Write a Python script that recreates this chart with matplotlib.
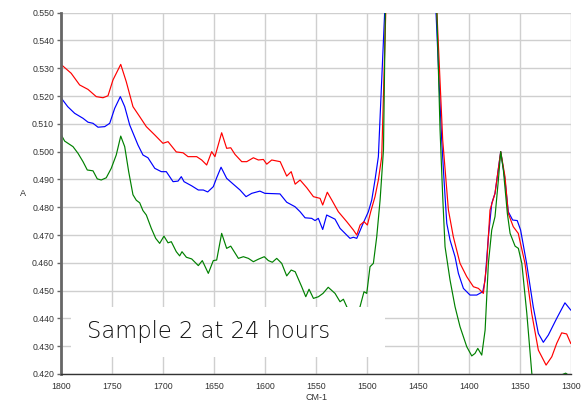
import numpy as np
import matplotlib.pyplot as plt
from matplotlib.patches import Rectangle

# wavenumber (cm-1) / absorbance
red_x = [1800, 1790, 1781.7, 1773.5, 1765.4, 1758.8, 1753.9, 1749, 1741.4, 1736,
         1729.4, 1722.8, 1716.3, 1708, 1700, 1695, 1686.9, 1680.3, 1675.4, 1666.9,
         1662, 1657.1, 1652.2, 1649, 1642.4, 1637.5, 1633.5, 1629.3, 1622.7, 1617.8,
         1611.3, 1606.4, 1601.5, 1598.2, 1593.3, 1585, 1578.6, 1574.2, 1570.3, 1565.5,
         1558.9, 1552.4, 1545.9, 1543.3, 1538.8, 1534.4, 1528, 1519.7, 1513.2, 1509.9,
         1506.6, 1502.8, 1499.5, 1496.2, 1492, 1488.7, 1485.4, 1481.3, 1457, 1431.5,
         1425.6, 1422.4, 1420, 1415.2, 1408.6, 1402, 1395.5, 1390.6, 1385.7, 1382.4,
         1379.2, 1374.3, 1368.7, 1364.5, 1361.3, 1356.4, 1351.5, 1344.9, 1338.3, 1331.8,
         1324.2, 1318.6, 1313.8, 1308.9, 1304, 1300]
red_y = [0.5314, 0.5282, 0.5240, 0.5224, 0.5198, 0.5194, 0.5201, 0.5258, 0.5314, 0.5252,
         0.5162, 0.5126, 0.5090, 0.5060, 0.5030, 0.5036, 0.4999, 0.4996, 0.4982, 0.4982,
         0.4970, 0.4952, 0.5000, 0.4982, 0.5068, 0.5012, 0.5014, 0.4990, 0.4964, 0.4964,
         0.4978, 0.4970, 0.4972, 0.4955, 0.4970, 0.4964, 0.4912, 0.4928, 0.4883, 0.4898,
         0.4870, 0.4838, 0.4832, 0.4808, 0.4854, 0.4826, 0.4784, 0.4748, 0.4718, 0.4700,
         0.4736, 0.4748, 0.4736, 0.4784, 0.4838, 0.4898, 0.4982, 0.552, 0.70, 0.552,
         0.5042, 0.4898, 0.4790, 0.4694, 0.4598, 0.4550, 0.4514, 0.4508, 0.4490, 0.4598,
         0.4790, 0.4850, 0.5000, 0.4910, 0.4778, 0.4730, 0.4706, 0.4598, 0.4418, 0.4286,
         0.4232, 0.4262, 0.4310, 0.4348, 0.4344, 0.4310]

blue_x = [1800, 1793.4, 1786.6, 1778.4, 1773.5, 1768.6, 1763.7, 1757.1, 1752.2, 1747.3,
          1741.8, 1737.5, 1732.6, 1724.5, 1719.6, 1714.7, 1708, 1701.6, 1696.7, 1690.1,
          1685.2, 1682, 1679.3, 1671.8, 1665.3, 1660.4, 1656.1, 1650.6, 1647.3, 1643,
          1637.5, 1631, 1624.4, 1618.5, 1612.9, 1604.9, 1600, 1585.2, 1578.6, 1570.5,
          1565.5, 1560.6, 1554.1, 1550.8, 1547.6, 1543.3, 1539.4, 1536.1, 1531.2, 1526.3,
          1521.4, 1516.5, 1513.2, 1509.9, 1503.4, 1498.5, 1495.2, 1492, 1488.7, 1482.3,
          1457, 1432.4, 1426.6, 1424.3, 1421.6, 1418.4, 1413.5, 1410.2, 1405.3, 1398.8,
          1392.2, 1386.3, 1384, 1380.8, 1377.5, 1374.3, 1368.7, 1364.5, 1361.3, 1357,
          1352.5, 1349.2, 1343.3, 1336.8, 1331.8, 1326.9, 1322, 1313.8, 1305.7, 1300]
blue_y = [0.5194, 0.5162, 0.5138, 0.5120, 0.5106, 0.5102, 0.5088, 0.5090, 0.5102, 0.5156,
          0.5198, 0.5162, 0.5096, 0.5024, 0.4988, 0.4978, 0.4940, 0.4928, 0.4928, 0.4892,
          0.4894, 0.4910, 0.4892, 0.4877, 0.4862, 0.4862, 0.4855, 0.4874, 0.4906, 0.4944,
          0.4904, 0.4883, 0.4862, 0.4838, 0.4850, 0.4858, 0.4850, 0.4848, 0.4818, 0.4802,
          0.4784, 0.4762, 0.4760, 0.4752, 0.4760, 0.4720, 0.4772, 0.4766, 0.4757, 0.4724,
          0.4706, 0.4688, 0.4692, 0.4688, 0.4744, 0.4784, 0.4826, 0.4898, 0.4982, 0.552,
          0.70, 0.552, 0.5042, 0.4898, 0.4742, 0.4682, 0.4622, 0.4562, 0.4508, 0.4484,
          0.4484, 0.4496, 0.4538, 0.4694, 0.4814, 0.4850, 0.5000, 0.4898, 0.4784, 0.4754,
          0.4752, 0.4718, 0.4598, 0.4442, 0.4346, 0.4314, 0.4340, 0.4400, 0.4456, 0.4430]

green_x = [1800, 1796.4, 1788.2, 1783.3, 1778.4, 1774.2, 1768.6, 1764.4, 1760.5, 1755.6,
           1750.7, 1745.8, 1741.4, 1737.5, 1733.6, 1729.4, 1726.1, 1722.8, 1719.6, 1716.3,
           1711.4, 1707.1, 1703.2, 1699, 1695, 1691.8, 1686.9, 1683.6, 1681.3, 1677,
           1671.8, 1665.3, 1661.4, 1655.5, 1650.6, 1647.3, 1642.4, 1637.5, 1633.5, 1626,
           1621.1, 1616.2, 1611.3, 1606.4, 1600.6, 1596.6, 1592.7, 1588.4, 1583.5, 1578.6,
           1574.2, 1570.3, 1563.9, 1559.9, 1556.7, 1552.4, 1547.5, 1543, 1537.9, 1531.2,
           1526.3, 1523, 1519.7, 1513, 1506.7, 1502.8, 1500.1, 1496.9, 1493.6, 1490.3,
           1487, 1483.7, 1481.8, 1457, 1431.5, 1428.2, 1425.6, 1423.3, 1418.4, 1413.5,
           1408.6, 1402, 1397.1, 1393.9, 1391.2, 1387.3, 1384, 1380.8, 1377.5, 1374.3,
           1371, 1368.7, 1366.1, 1362.2, 1359.5, 1354.6, 1351.4, 1348, 1343.1, 1338.2,
           1330, 1318, 1310, 1305, 1300]
green_y = [0.5062, 0.5038, 0.5018, 0.4994, 0.4964, 0.4934, 0.4931, 0.4902, 0.4898, 0.4906,
           0.4940, 0.4988, 0.5056, 0.5018, 0.4928, 0.4845, 0.4825, 0.4816, 0.4788, 0.4772,
           0.4724, 0.4688, 0.4670, 0.4696, 0.4672, 0.4676, 0.4640, 0.4625, 0.4640, 0.4620,
           0.4614, 0.4590, 0.4608, 0.4562, 0.4608, 0.4610, 0.4706, 0.4652, 0.4660, 0.4616,
           0.4622, 0.4616, 0.4604, 0.4613, 0.4622, 0.4608, 0.4602, 0.4616, 0.4598, 0.4553,
           0.4574, 0.4568, 0.4514, 0.4478, 0.4505, 0.4472, 0.4478, 0.4490, 0.4512, 0.4490,
           0.4460, 0.4469, 0.4442, 0.4400, 0.4442, 0.4496, 0.4490, 0.4586, 0.4598, 0.4694,
           0.4826, 0.5006, 0.552, 0.70, 0.552, 0.5078, 0.4838, 0.4658, 0.4538, 0.4442,
           0.4370, 0.4298, 0.4265, 0.4274, 0.4292, 0.4268, 0.4358, 0.4598, 0.4718, 0.4766,
           0.4898, 0.5000, 0.4934, 0.4778, 0.4706, 0.4660, 0.4652, 0.4598, 0.4418, 0.4202,
           0.4100, 0.4150, 0.4195, 0.4203, 0.4190]

y_ticks = np.round(np.arange(0.420, 0.5501, 0.010), 3)
x_ticks = [1800, 1750, 1700, 1650, 1600, 1550, 1500, 1450, 1400, 1350, 1300]
title_text = "Sample 2 at 24 hours"

plt.rcParams['font.family'] = ['Liberation Sans', 'DejaVu Sans']

fig = plt.figure(figsize=(5.83, 4.03), dpi=100)
ax = fig.add_axes([0.1046, 0.072, 0.8744, 0.8965])

ax.plot(blue_x, blue_y, color='#0000ff', lw=0.85)
ax.plot(red_x, red_y, color='#ff0000', lw=0.85)
ax.plot(green_x, green_y, color='#008000', lw=0.85)

ax.set_xlim(1800, 1300)
ax.set_ylim(0.420, 0.550)
ax.set_xticks(x_ticks)
ax.set_yticks(y_ticks)
ax.set_yticklabels([f"{v:.3f}" for v in y_ticks])
ax.grid(True, color='#cfcfcf', lw=1.0)
ax.set_axisbelow(True)

for s in ['top', 'right']:
    ax.spines[s].set_visible(False)
ax.spines['left'].set_color('#666666')
ax.spines['left'].set_linewidth(2.0)
ax.spines['bottom'].set_color('#333333')
ax.spines['bottom'].set_linewidth(1.0)
ax.tick_params(axis='y', length=3, width=1, color='#666666', pad=2,
               labelsize=6.3, labelcolor='#333333')
ax.tick_params(axis='x', length=0, pad=6, labelsize=6.3, labelcolor='#333333')

# white caption box over the lower left of the plot
ax.add_patch(Rectangle((0.0196, 0.047), 0.616, 0.138, transform=ax.transAxes,
                       facecolor='white', edgecolor='none', zorder=4))
ax.text(0.29, 0.118, title_text, transform=ax.transAxes, ha='center', va='center',
        fontsize=16.3, color='#111111', family=['DejaVu Sans'], fontweight='light', zorder=5)

fig.text(23 / 583, 1 - 193 / 403, "A", ha='center', va='center', fontsize=6.5, color='#333333')
fig.text(316 / 583, 1 - 398 / 403, "CM-1", ha='center', va='center', fontsize=6.5, color='#333333')

fig.savefig("out.png", dpi=100)
